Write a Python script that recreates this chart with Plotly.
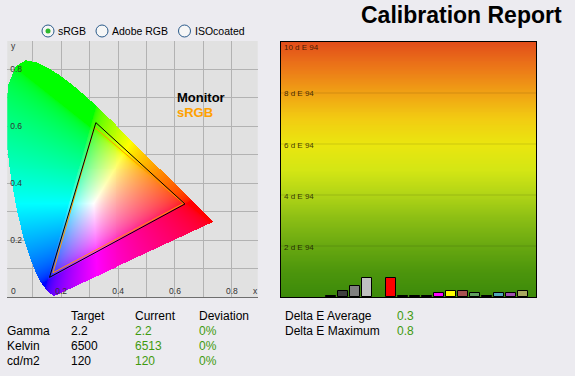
import numpy as np
import plotly.graph_objects as go

W, H = 575, 376

# ---------------- data ----------------
# CIE 1931 spectral locus (x, y) from 380 nm to 700 nm
locus_x = [0.1741, 0.1738, 0.1733, 0.1726, 0.1714, 0.1689, 0.1644, 0.1566, 0.1440, 0.1241,
           0.1096, 0.0913, 0.0687, 0.0454, 0.0235, 0.0082, 0.0039, 0.0139, 0.0389, 0.0743,
           0.1142, 0.1547, 0.1929, 0.2296, 0.2658, 0.3016, 0.3373, 0.3731, 0.4087, 0.4441,
           0.4788, 0.5125, 0.5448, 0.5752, 0.6029, 0.6270, 0.6482, 0.6658, 0.6801, 0.6915,
           0.7006, 0.7079, 0.7140, 0.7190, 0.7230, 0.7260, 0.7347]
locus_y = [0.0050, 0.0049, 0.0048, 0.0048, 0.0051, 0.0069, 0.0109, 0.0177, 0.0297, 0.0578,
           0.0868, 0.1327, 0.2007, 0.2950, 0.4127, 0.5384, 0.6548, 0.7502, 0.8120, 0.8338,
           0.8262, 0.8059, 0.7816, 0.7543, 0.7243, 0.6923, 0.6589, 0.6245, 0.5896, 0.5547,
           0.5202, 0.4866, 0.4544, 0.4242, 0.3965, 0.3725, 0.3514, 0.3340, 0.3197, 0.3083,
           0.2993, 0.2920, 0.2859, 0.2809, 0.2770, 0.2740, 0.2653]

monitor_x = [0.322, 0.635, 0.159]
monitor_y = [0.613, 0.327, 0.069]
srgb_x = [0.317, 0.630, 0.171]
srgb_y = [0.597, 0.329, 0.085]

xy_ticks = [0.1, 0.2, 0.3, 0.4, 0.5, 0.6, 0.7, 0.8, 0.9]
xy_ticktext = ["", "0.2", "", "0.4", "", "0.6", "", "0.8", ""]

bar_slots = list(range(17))
bar_values = [0.03, 0.22, 0.43, 0.75, None, 0.76, 0.03, 0.03, 0.03,
              0.14, 0.22, 0.22, 0.16, 0.03, 0.16, 0.16, 0.22]
bar_colors = ["#000000", "#404040", "#808080", "#C0C0C0", "#FFFFFF", "#FF0000",
              "#000000", "#000000", "#000000", "#FF00FF", "#FFFF00", "#A85050",
              "#60A060", "#000000", "#50A8B8", "#A050B0", "#A8A860"]

de_ticks = [2, 4, 6, 8, 10]
de_ticktext = ["2 d E 94", "4 d E 94", "6 d E 94", "8 d E 94", "10 d E 94"]

grad_levels = [0, 1, 2, 3, 4, 5, 6, 7, 8, 9, 10]
grad_colors = ["#3C8A0A", "#4C950C", "#68A810", "#88BC14", "#B0D416", "#D4E614",
               "#EAE60F", "#F2CC12", "#F0A214", "#EC7818", "#E24E1A"]

table_rows = ["Gamma", "Kelvin", "cd/m2"]
table_head = ["Target", "Current", "Deviation"]
table_target = ["2.2", "6500", "120"]
table_current = ["2.2", "6513", "120"]
table_dev = ["0%", "0%", "0%"]
de_labels = ["Delta E Average", "Delta E Maximum"]
de_values = ["0.3", "0.8"]

radio_labels = ["sRGB", "Adobe RGB", "ISOcoated"]

# ---------------- helpers ----------------
def px(x):
    return x / W

def py(y):
    return 1 - y / H

GREEN = "#3F9A0E"
FONT = "Liberation Sans, Arial, sans-serif"

# ---------------- CIE image ----------------
step = 0.0035
gx = np.arange(0.0, 0.75, step)
gy = np.arange(0.0, 0.85, step)
X, Y = np.meshgrid(gx, gy)
lx = np.array(locus_x)
ly = np.array(locus_y)
inside = np.zeros(X.shape, dtype=bool)
j = len(lx) - 1
for i in range(len(lx)):
    xi, yi, xj, yj = lx[i], ly[i], lx[j], ly[j]
    cond = ((yi > Y) != (yj > Y)) & (X < (xj - xi) * (Y - yi) / (yj - yi + 1e-12) + xi)
    inside ^= cond
    j = i
yy = np.maximum(Y, 1e-4)
Xc = X / yy
Zc = (1 - X - Y) / yy
R = 3.2406 * Xc - 1.5372 - 0.4986 * Zc
G = -0.9689 * Xc + 1.8758 + 0.0415 * Zc
B = 0.0557 * Xc - 0.2040 + 1.0570 * Zc
rgb = np.clip(np.stack([R, G, B], axis=-1), 0, None)
rgb = rgb / (rgb.max(axis=-1, keepdims=True) + 1e-9)
rgb = np.power(rgb, 1 / 2.2) * 255
alpha = inside.astype(float)[..., None]
img = np.concatenate([np.round(rgb), alpha], axis=-1)

fig = go.Figure()

fig.add_trace(go.Image(z=img, colormodel="rgba", x0=gx[0], y0=gy[0], dx=step, dy=step,
                       xaxis="x", yaxis="y", hoverinfo="skip"))

fig.add_trace(go.Scatter(x=srgb_x + srgb_x[:1], y=srgb_y + srgb_y[:1], mode="lines",
                         line=dict(color="#FF9900", width=1), xaxis="x", yaxis="y",
                         hoverinfo="skip", showlegend=False))
fig.add_trace(go.Scatter(x=monitor_x + monitor_x[:1], y=monitor_y + monitor_y[:1], mode="lines",
                         line=dict(color="#000000", width=1), xaxis="x", yaxis="y",
                         hoverinfo="skip", showlegend=False))

# ---------------- right chart ----------------
XR = [-4.17, 17.08]
glev = np.linspace(0, 10, 101)
fig.add_trace(go.Heatmap(x=XR, y=glev, z=[[v, v] for v in glev],
                         colorscale=[[lv / 10, c] for lv, c in zip(grad_levels, grad_colors)],
                         zmin=0, zmax=10, zsmooth="best", showscale=False,
                         xaxis="x2", yaxis="y2", hoverinfo="skip"))

fig.add_trace(go.Bar(x=bar_slots, y=bar_values, width=0.8,
                     marker=dict(color=bar_colors, line=dict(color="#000000", width=1)),
                     xaxis="x2", yaxis="y2", hoverinfo="skip", showlegend=False))

shapes = []
for t in de_ticks[:-1]:
    shapes.append(dict(type="line", xref="x2 domain", yref="y2", x0=0, x1=1, y0=t, y1=t,
                       line=dict(color="rgba(0,0,0,0.13)", width=1), layer="above"))

annotations = []
for t, txt in zip(de_ticks, de_ticktext):
    annotations.append(dict(xref="paper", yref="y2", x=px(282), y=t, text=txt,
                            showarrow=False, xanchor="left", yanchor="middle",
                            yshift=-6 if t == 10 else -1,
                            font=dict(size=8, color="rgba(20,10,0,0.8)", family=FONT)))

# left chart extra labels
for txt, x, y in [("0", 9, 291), ("x", 255, 291), ("y", 9, 46)]:
    annotations.append(dict(xref="paper", yref="paper", x=px(x), y=py(y), text=txt,
                            showarrow=False, xanchor="left" if txt != "x" else "center",
                            yanchor="middle", font=dict(size=8.5, color="#333333", family=FONT)))

annotations.append(dict(xref="paper", yref="paper", x=px(175), y=py(97), text="<b>Monitor</b>",
                        showarrow=False, xanchor="left", yanchor="middle",
                        font=dict(size=13, color="#000000", family=FONT)))
annotations.append(dict(xref="paper", yref="paper", x=px(175), y=py(113), text="<b>sRGB</b>",
                        showarrow=False, xanchor="left", yanchor="middle",
                        font=dict(size=13, color="#FFA000", family=FONT)))

# title
annotations.append(dict(xref="paper", yref="paper", x=px(564), y=py(15),
                        text="<b>Calibration Report</b>", showarrow=False,
                        xanchor="right", yanchor="middle",
                        font=dict(size=23, color="#000000", family=FONT)))

# radio buttons
radio_cx = [48, 102, 184.5]
for k, (lab, cx) in enumerate(zip(radio_labels, radio_cx)):
    shapes.append(dict(type="circle", xref="paper", yref="paper",
                       x0=px(cx - 6), x1=px(cx + 6), y0=py(37), y1=py(25),
                       line=dict(color="#2A5A8A", width=1), fillcolor="#F6F6F6", layer="above"))
    if k == 0:
        shapes.append(dict(type="circle", xref="paper", yref="paper",
                           x0=px(cx - 2.5), x1=px(cx + 2.5), y0=py(33.5), y1=py(28.5),
                           line=dict(color="#22A822", width=0), fillcolor="#2DB82D", layer="above"))
    annotations.append(dict(xref="paper", yref="paper", x=px(cx + 8), y=py(31), text=lab,
                            showarrow=False, xanchor="left", yanchor="middle",
                            font=dict(size=10.5, color="#000000", family=FONT)))

# table
col_x = [69, 133, 197]
for h, cx in zip(table_head, col_x):
    annotations.append(dict(xref="paper", yref="paper", x=px(cx), y=py(316), text=h,
                            showarrow=False, xanchor="left", yanchor="middle",
                            font=dict(size=12, color="#000000", family=FONT)))
row_y = [331, 346, 361]
for r, t, c, d, ry in zip(table_rows, table_target, table_current, table_dev, row_y):
    for txt, cx, col in [(r, 5, "#000000"), (t, 69, "#000000"), (c, 133, GREEN), (d, 197, GREEN)]:
        annotations.append(dict(xref="paper", yref="paper", x=px(cx), y=py(ry), text=txt,
                                showarrow=False, xanchor="left", yanchor="middle",
                                font=dict(size=12, color=col, family=FONT)))
for lab, val, ry in zip(de_labels, de_values, [316, 331]):
    annotations.append(dict(xref="paper", yref="paper", x=px(283), y=py(ry), text=lab,
                            showarrow=False, xanchor="left", yanchor="middle",
                            font=dict(size=12, color="#000000", family=FONT)))
    annotations.append(dict(xref="paper", yref="paper", x=px(395), y=py(ry), text=val,
                            showarrow=False, xanchor="left", yanchor="middle",
                            font=dict(size=12, color=GREEN, family=FONT)))

fig.update_layout(
    width=W, height=H, margin=dict(l=0, r=0, t=0, b=0),
    paper_bgcolor="#ECEBF0", plot_bgcolor="#E1E1E1",
    showlegend=False, bargap=0,
    font=dict(family=FONT),
    xaxis=dict(domain=[px(7), px(258)], range=[0.0105, 0.891], tickvals=xy_ticks, ticktext=xy_ticktext,
               ticklabelposition="inside", ticks="", showgrid=True, gridcolor="#B2B2B2", gridwidth=1,
               zeroline=False, showline=True, linecolor="#6E6E6E", linewidth=1,
               tickfont=dict(size=8.5, color="#333333"), anchor="y", fixedrange=True),
    yaxis=dict(domain=[py(297), py(41)], range=[0, 0.9], tickvals=xy_ticks, ticktext=xy_ticktext,
               ticklabelposition="inside", ticks="", showgrid=True, gridcolor="#B2B2B2", gridwidth=1,
               zeroline=False, showline=False, autorange=False,
               tickfont=dict(size=8.5, color="#333333"), anchor="x", fixedrange=True),
    xaxis2=dict(domain=[px(281), px(536)], range=XR, showticklabels=False, ticks="",
                showgrid=False, zeroline=False, showline=True, mirror=True,
                linecolor="#000000", linewidth=1, anchor="y2", fixedrange=True),
    yaxis2=dict(domain=[py(297), py(42)], range=[0, 10], showticklabels=False, ticks="",
                showgrid=False, zeroline=False, showline=True, mirror=True,
                linecolor="#000000", linewidth=1, anchor="x2", fixedrange=True),
    shapes=shapes, annotations=annotations,
)

fig.write_html("out.html", config={"displayModeBar": False},
               post_script="document.body.style.margin='0';document.body.style.overflow='hidden';")
